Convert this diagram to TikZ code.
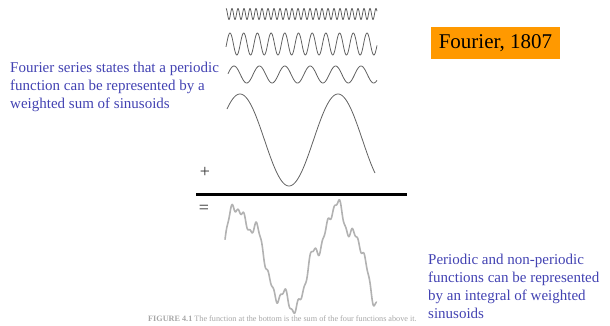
\documentclass[tikz,border=0pt]{standalone}
\usepackage{fontspec}
\setmainfont{Liberation Serif}
\usetikzlibrary{positioning}
\definecolor{noteblue}{RGB}{66,66,178}
\definecolor{boxorange}{RGB}{255,153,0}

\begin{document}
\begin{tikzpicture}[x=1pt, y=-1pt,
  note/.style={align=left, text=noteblue, font=\fontsize{15}{18}\selectfont, inner sep=0pt},
  wave/.style={gray!75!black, line width=0.8pt, smooth},
  sumwave/.style={gray!60, line width=1.6pt, smooth},
  sign/.style={font=\fontsize{18}{18}\selectfont, text=black!80, inner sep=0pt},
]
\useasboundingbox (0,0) rectangle (610,325);
\clip (0,0) rectangle (610,325);

% the four components
\draw[wave] plot[domain=226:377, samples=500] (\x, {14 - 5.5*cos((\x-226)/6*360)});
\draw[wave] plot[domain=226:377, samples=300] (\x, {44 - 11*cos((\x-230)/13.7*360)});
\draw[wave] plot[domain=228:377, samples=200] (\x, {74.5 - 8.5*cos((\x-234)/25.4*360)});
\draw[wave] plot[domain=227:375, samples=150] (\x, {140 - 46*cos((\x-240)/98*360)});

\node[sign] (plus) at (205,172) {+};
\draw[line width=3pt] (196,194) -- (407,194);
\node[sign] (equal) at (204,209) {=};

% their sum
\draw[sumwave] plot[domain=225:377, samples=500] (\x, {259 - (47*cos((\x-240)/98*360) + 9*cos((\x-234)/25.4*360) + 5*cos((\x-230)/13.7*360) + 2.5*cos((\x-226)/6*360))});

\node[anchor=base west, inner sep=0pt, text=gray!70, font=\fontsize{8.2}{8.2}\selectfont] (caption) at (148,321) {\textbf{FIGURE 4.1} The function at the bottom is the sum of the four functions above it.};

\node[fill=boxorange, minimum width=129pt, minimum height=32pt, font=\fontsize{21}{21}\selectfont] (year) at (495.5,43) {Fourier, 1807};

\node[note, anchor=north west] (series) at (10,62) {Fourier series states that a periodic\\function can be represented by a\\weighted sum of sinusoids};
\node[note, anchor=north west] (integral) at (428,254) {Periodic and non-periodic\\functions can be represented\\by an integral of weighted\\sinusoids};
\end{tikzpicture}
\end{document}
